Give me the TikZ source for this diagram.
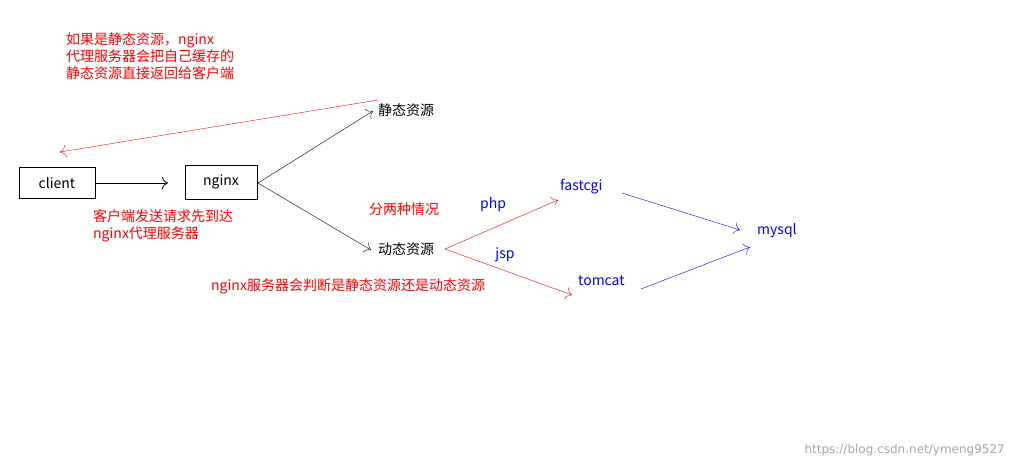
\documentclass[tikz,border=0pt]{standalone}
\usepackage{fontspec}
\setmainfont{DejaVu Sans}
\newfontfamily\cjk{Noto Sans CJK SC}
\usetikzlibrary{arrows.meta}
\begin{document}
\begin{tikzpicture}[x=1pt,y=-1pt,
  txt/.style={inner sep=0pt,font=\fontsize{14}{17}\selectfont\cjk},
  box/.style={draw,thick,inner sep=0pt,font=\fontsize{14}{17}\selectfont\cjk},
  arr/.style={-{To[length=6pt,width=12pt]}}]
\useasboundingbox[fill=white] (0,0) rectangle (1014,467);
\node[box,minimum width=76pt,minimum height=31pt] (client) at (57,183) {client};
\node[box,minimum width=72pt,minimum height=34pt] (nginx) at (221,182) {nginx};
\draw[arr,thick] (client) -- (168,183) coordinate (ce);
\node[txt,anchor=west] (st) at (378,110) {静态资源};
\node[txt,anchor=west] (dy) at (378,249) {动态资源};
\coordinate (ns) at (258,183);
\draw[arr] (ns) -- (373,111);
\draw[arr] (ns) -- (371,250);
\coordinate (rs) at (378,100);
\draw[arr,red] (rs) -- (60,152);
\node[txt,red,anchor=north west,align=left] (t1) at (66,32) {如果是静态资源，nginx\\代理服务器会把自己缓存的\\静态资源直接返回给客户端};
\node[txt,red,anchor=north west,align=left] (t2) at (93,209) {客户端发送请求先到达\\nginx代理服务器};
\node[txt,red] (t3) at (404,209) {分两种情况};
\node[txt,blue] (php) at (493,205) {php};
\node[txt,blue] (jsp) at (505,255) {jsp};
\node[txt,blue,anchor=west] (fc) at (560,187) {fastcgi};
\node[txt,blue,anchor=west] (tc) at (578,281) {tomcat};
\node[txt,blue,anchor=west] (my) at (757,231) {mysql};
\coordinate (dr) at (445,249);
\draw[arr,red] (dr) -- (558,200);
\draw[arr,red] (dr) -- (572,295);
\draw[arr,blue] (622,193) -- (740,230);
\draw[arr,blue] (641,289) -- (750,247);
\node[txt,red,anchor=west] (t4) at (211,286) {nginx服务器会判断是静态资源还是动态资源};
\node[txt,gray!70,anchor=east,font=\fontsize{12}{14}\selectfont] (wm) at (1005,450) {https://blog.csdn.net/ymeng9527};
\end{tikzpicture}
\end{document}
